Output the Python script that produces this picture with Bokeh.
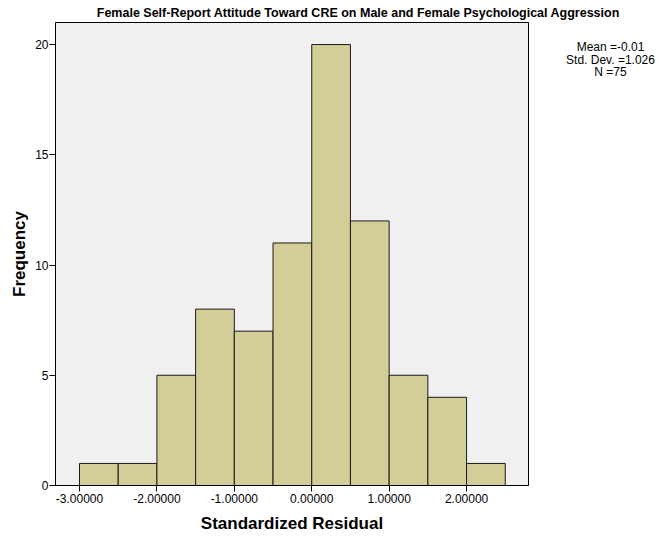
import math
from bokeh.plotting import figure
from bokeh.models import FixedTicker, Label, Range1d
from bokeh.layouts import column, row
from bokeh.embed import file_html
from bokeh.resources import INLINE

# ---- data ----
bin_left = [-3.0, -2.5, -2.0, -1.5, -1.0, -0.5, 0.0, 0.5, 1.0, 1.5, 2.0]
bin_right = [-2.5, -2.0, -1.5, -1.0, -0.5, 0.0, 0.5, 1.0, 1.5, 2.0, 2.5]
counts = [1, 1, 5, 8, 7, 11, 20, 12, 5, 4, 1]
x_ticks = [-3, -2, -1, 0, 1, 2]
x_tick_labels = ["-3.00000", "-2.00000", "-1.00000", "0.00000", "1.00000", "2.00000"]
y_ticks = [0, 5, 10, 15, 20]
title_text = "Female Self-Report Attitude Toward CRE on Male and Female Psychological Aggression"
x_label = "Standardized Residual"
y_label = "Frequency"
stats_lines = ["Mean =-0.01", "Std. Dev. =1.026", "N =75"]

FONT = "Liberation Sans"

# overall geometry (pixels)
W, H = 666, 540
TITLE_H = 20
L, R, T, B = 55, 528, 22, 485
MAIN_W = 540
x0, x1 = -3.31, 2.80
y0, y1 = 0.0, 21.0

def blank(width, height):
    f = figure(width=width, height=height, output_backend="svg", toolbar_location=None,
               title=None, x_range=Range1d(0, width), y_range=Range1d(height, 0),
               x_axis_location=None, y_axis_location=None,
               min_border_left=0, min_border_right=0, min_border_top=0, min_border_bottom=0)
    f.outline_line_color = None
    f.grid.visible = False
    f.background_fill_color = "white"
    f.border_fill_color = "white"
    return f

# title strip (y measured from top)
tf = blank(W, TITLE_H)
tf.add_layout(Label(x=358, y=12, text=title_text, text_font=FONT,
                    text_font_size="12.5px", text_font_style="bold",
                    text_align="center", text_baseline="middle", text_color="black"))

# main histogram
ph = H - TITLE_H
p = figure(width=MAIN_W, height=ph, output_backend="svg", toolbar_location=None,
           title=None, x_range=Range1d(x0, x1), y_range=Range1d(y0, y1),
           min_border_left=L, min_border_right=MAIN_W - R,
           min_border_top=T - TITLE_H, min_border_bottom=H - B)
p.background_fill_color = "#F0F0F0"
p.border_fill_color = "white"
p.outline_line_color = "black"
p.outline_line_width = 1
p.grid.visible = False

p.quad(left=bin_left, right=bin_right, top=counts, bottom=0,
       fill_color="#D3CE97", line_color="#1a1a1a", line_width=1)

xa = p.xaxis[0]
xa.ticker = FixedTicker(ticks=x_ticks)
xa.major_label_overrides = {t: l for t, l in zip(x_ticks, x_tick_labels)}
ya = p.yaxis[0]
ya.ticker = FixedTicker(ticks=y_ticks)
xa.axis_label = x_label
ya.axis_label = y_label
xa.axis_label_standoff = 8
ya.axis_label_standoff = 3
for ax in (xa, ya):
    ax.minor_tick_line_color = None
    ax.major_tick_in = 0
    ax.major_tick_out = 6
    ax.axis_line_color = "black"
    ax.major_tick_line_color = "black"
    ax.major_label_text_font = FONT
    ax.major_label_text_font_size = "12px"
    ax.major_label_text_color = "black"
    ax.axis_label_text_font = FONT
    ax.axis_label_text_font_size = "17px"
    ax.axis_label_text_font_style = "bold"
    ax.axis_label_text_color = "black"
xa.major_label_standoff = 2
ya.major_label_standoff = 1

# statistics box on the right (y measured from top of this panel)
sf = blank(W - MAIN_W, ph)
for i, line in enumerate(stats_lines):
    sf.add_layout(Label(x=610 - MAIN_W, y=(48 + 14 * i) - TITLE_H, text=line,
                        text_font=FONT, text_font_size="12px", text_align="center",
                        text_baseline="middle", text_color="black"))

layout = column(tf, row(p, sf, spacing=0), spacing=0)
open("out.html", "w").write(file_html(layout, INLINE))
